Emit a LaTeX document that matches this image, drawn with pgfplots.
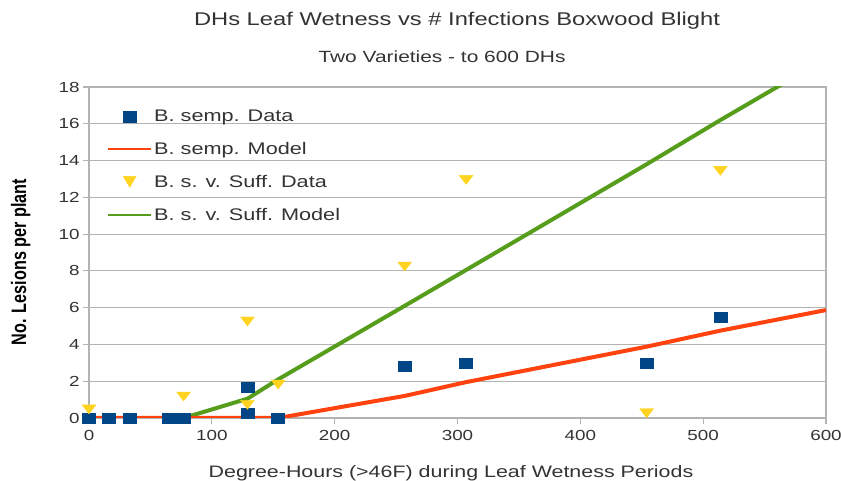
\documentclass[border=0pt]{standalone}
\usepackage{pgfplots}
\pgfplotsset{compat=1.18}
\usepackage{fontspec}
\setmainfont{Liberation Sans}[FakeStretch=1.29]
\newfontfamily\ylabfont{Liberation Sans}[FakeStretch=0.775]
\definecolor{sblue}{HTML}{004586}
\definecolor{sred}{HTML}{FF420E}
\definecolor{syel}{HTML}{FFD320}
\definecolor{sgreen}{HTML}{579D1C}
\definecolor{gridgray}{HTML}{B3B3B3}
\definecolor{txt}{HTML}{333333}
\begin{document}
\begin{tikzpicture}
\useasboundingbox (0bp,0bp) rectangle (841bp,481bp);
\begin{axis}[
  at={(89bp,63bp)}, anchor=south west,
  scale only axis, width=737bp, height=331bp,
  xmin=0, xmax=600, ymin=0, ymax=18,
  xtick={0,100,...,600}, ytick={0,2,...,18},
  ymajorgrids, grid style={gridgray, line width=1.2bp},
  axis line style={gridgray, line width=1.2bp},
  tick style={gridgray, line width=1.2bp},
  major tick length=6bp, tick align=outside,
  xtick pos=bottom, ytick pos=left,
  /pgf/number format/assume math mode=true,
  ticklabel style={font=\fontsize{14.6bp}{16bp}\selectfont, text=txt},
  xticklabel style={yshift=-3bp},
  clip=true,
  legend style={at={(rel axis cs:0,1)}, anchor=north west, xshift=18bp, yshift=-21bp,
    draw=none, fill=none, inner sep=0pt,
    font=\fontsize{16.8bp}{20bp}\selectfont, text=txt,
    row sep=15.3bp, cells={anchor=west}},
  legend cell align=left,
]
% models
\addplot[forget plot, sgreen, line width=4bp, line join=round] coordinates {
(77,0) (129,1.05) (154,2.1) (257,6.1) (307,8.05) (454,13.8) (514,16.2) (600,19.55)};
\addplot[forget plot, sred, line width=4bp, line join=round] coordinates {
(0,0) (154,0) (257,1.2) (307,1.95) (454,3.88) (514,4.75) (600,5.87)};
% data
\addplot[forget plot, only marks, mark=square*, mark size=5bp, mark options={draw=sblue, fill=sblue, xscale=1.3}] coordinates {
(0,0) (16,0) (33,0) (65,0) (71,0) (77,0) (129,1.7) (129,0.28) (154,0)
(257,2.8) (307,3.0) (454,3.0) (514,5.5)};
\addplot[forget plot, only marks, mark=triangle*, mark size=8bp, mark options={draw=syel, fill=syel, rotate=180, yscale=0.75}] coordinates {
(0,0.55) (77,1.25) (129,5.33) (129,0.8) (154,1.9) (257,8.32) (307,13.03) (454,0.34) (514,13.52)};
% legend
\addlegendimage{legend image code/.code={\fill[sblue] (15.5bp,-5.5bp) rectangle (27.5bp,5.5bp);}}
\addlegendentry{B. semp. Data}
\addlegendimage{legend image code/.code={\draw[sred, line width=2bp] (0bp,0bp) -- (43bp,0bp);}}
\addlegendentry{B. semp. Model}
\addlegendimage{legend image code/.code={\fill[syel] (15bp,6bp) -- (28bp,6bp) -- (21.5bp,-5bp) -- cycle;}}
\addlegendentry{B. s. v. Suff. Data}
\addlegendimage{legend image code/.code={\draw[sgreen, line width=2bp] (0bp,0bp) -- (43bp,0bp);}}
\addlegendentry{B. s. v. Suff. Model}
\end{axis}
\node[anchor=base, text=txt, font=\fontsize{18.4bp}{20bp}\selectfont] at (457bp,455bp) {DHs Leaf Wetness vs \# Infections Boxwood Blight};
\node[anchor=base, text=txt, font=\fontsize{16.2bp}{20bp}\selectfont] at (442bp,418bp) {Two Varieties - to 600 DHs};
\node[anchor=base, text=txt, font=\fontsize{16.6bp}{20bp}\selectfont] at (451bp,4bp) {Degree-Hours (>46F) during Leaf Wetness Periods};
\node[rotate=90, anchor=base, text=black, font=\ylabfont\bfseries\fontsize{20.9bp}{22bp}\selectfont] at (26bp,219bp) {No. Lesions per plant};
\end{tikzpicture}
\end{document}
